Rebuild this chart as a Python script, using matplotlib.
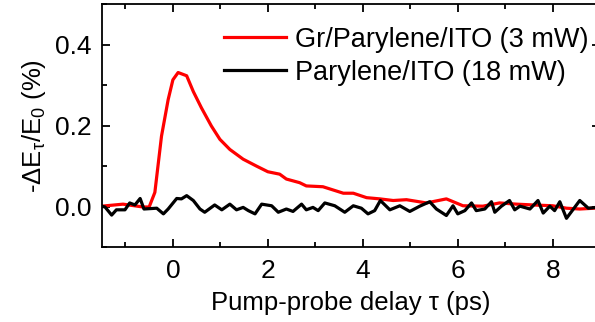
import matplotlib
matplotlib.use("Agg")
import matplotlib.pyplot as plt
from matplotlib.ticker import MultipleLocator

plt.rcParams["font.family"] = ["Liberation Sans", "DejaVu Sans"]
plt.rcParams["mathtext.default"] = "regular"

# Gr/Parylene/ITO (3 mW)
delay_gr = [-1.5, -1.05, -0.63, -0.5, -0.38, -0.24, -0.1, 0.0, 0.11, 0.29, 0.43,
            0.6, 0.81, 0.99, 1.2, 1.48, 1.76, 2.0, 2.25, 2.39, 2.67, 2.81, 3.16,
            3.59, 3.8, 4.08, 4.36, 4.64, 4.92, 5.34, 5.76, 6.11, 6.53, 6.88,
            7.24, 7.59, 8.0, 8.29, 8.57, 8.88, 9.0]
signal_gr = [0.002, 0.007, 0.0, 0.0, 0.036, 0.175, 0.265, 0.314, 0.332, 0.324, 0.285,
             0.245, 0.2, 0.167, 0.142, 0.118, 0.101, 0.087, 0.081, 0.069, 0.06, 0.052,
             0.05, 0.034, 0.034, 0.023, 0.02, 0.016, 0.018, 0.01, 0.02, 0.003, 0.002,
             0.01, 0.007, 0.005, 0.003, -0.003, -0.005, -0.003, -0.002]

# Parylene/ITO (18 mW)
delay_ref = [-1.5, -1.43, -1.29, -1.19, -1.01, -0.91, -0.8, -0.69, -0.61, -0.34,
             -0.2, -0.1, 0.08, 0.18, 0.29, 0.43, 0.57, 0.67, 0.88, 1.03, 1.2, 1.34,
             1.48, 1.59, 1.73, 1.87, 2.08, 2.22, 2.39, 2.53, 2.71, 2.81, 2.95, 3.06,
             3.2, 3.41, 3.62, 3.8, 3.97, 4.11, 4.25, 4.37, 4.57, 4.78, 4.99, 5.2,
             5.41, 5.55, 5.76, 5.9, 6.0, 6.15, 6.29, 6.39, 6.57, 6.71, 6.78, 6.92,
             7.09, 7.2, 7.31, 7.52, 7.69, 7.8, 7.94, 8.04, 8.15, 8.29, 8.57, 8.75, 9.0]
signal_ref = [0.002, 0.0, -0.02, -0.007, -0.007, 0.01, 0.005, 0.021, -0.005, -0.003,
              -0.017, -0.005, 0.021, 0.02, 0.028, 0.016, -0.005, -0.013, 0.005, -0.007,
              0.007, -0.007, -0.001, -0.009, -0.017, 0.007, 0.003, -0.013, -0.005,
              -0.011, 0.007, -0.007, -0.001, -0.009, 0.01, 0.003, -0.013, 0.003, -0.003,
              -0.017, -0.009, 0.016, -0.007, 0.003, -0.011, 0.002, 0.013, -0.005, -0.021,
              0.003, -0.017, -0.009, 0.01, -0.009, -0.005, 0.013, -0.013, 0.002, 0.016,
              -0.007, 0.002, -0.005, 0.016, -0.015, 0.002, -0.009, 0.013, -0.028, 0.016,
              -0.003, 0.0]

fig = plt.figure(figsize=(5.95, 3.22), dpi=100)
ax = fig.add_axes([0.1709, 0.2314, 0.8378, 0.7547])

ax.plot(delay_gr, signal_gr, color="#ff0000", lw=2.3, label="Gr/Parylene/ITO (3 mW)")
ax.plot(delay_ref, signal_ref, color="black", lw=2.3, label="Parylene/ITO (18 mW)")

ax.set_xlim(-1.5, 9)
ax.set_ylim(-0.1, 0.5)
ax.xaxis.set_major_locator(MultipleLocator(2))
ax.xaxis.set_minor_locator(MultipleLocator(1))
ax.yaxis.set_major_locator(MultipleLocator(0.2))
ax.yaxis.set_minor_locator(MultipleLocator(0.1))
ax.tick_params(which="both", direction="in", top=True, right=True, width=1.3,
               labelsize=19)
ax.tick_params(which="major", length=6)
ax.tick_params(which="minor", length=3.5)
ax.tick_params(axis="x", pad=8)
ax.tick_params(axis="y", pad=7)
for s in ax.spines.values():
    s.set_linewidth(1.3)

ax.set_xlabel("Pump-probe delay τ (ps)", fontsize=18.5, labelpad=6)
ax.set_ylabel(r"-ΔE$_{\tau}$/E$_0$ (%)", fontsize=18.5, labelpad=5)

ax.legend(loc="upper right", frameon=False, fontsize=19.5, handlelength=2.3,
          handletextpad=0.35, labelspacing=0.25, borderaxespad=0.2,
          bbox_to_anchor=(1.01, 0.975))

fig.savefig("out.png", dpi=100)
